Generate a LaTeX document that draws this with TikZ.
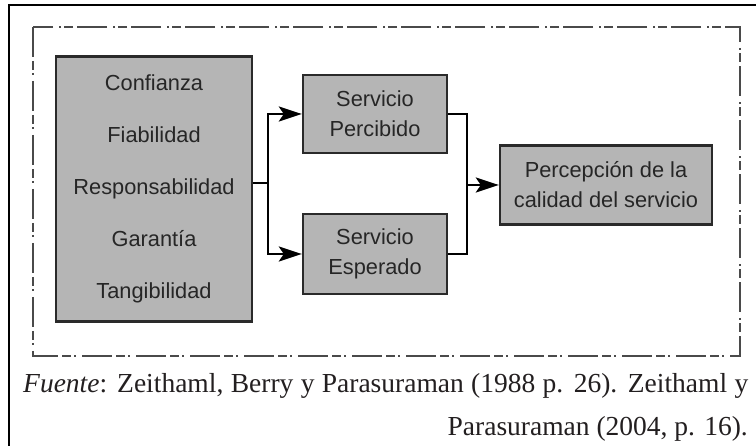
\documentclass[tikz,border=0pt]{standalone}
\usepackage{fontspec}
\setmainfont{Liberation Serif}
\newfontfamily\boxfont{Liberation Sans}
\usetikzlibrary{arrows.meta}
\definecolor{boxfill}{HTML}{B5B5B5}
\definecolor{boxline}{HTML}{2A2A2A}
\definecolor{frameline}{HTML}{4A4A4A}
\definecolor{captext}{HTML}{231F20}
\tikzset{
  gbox/.style={draw=boxline, line width=2.4pt, fill=boxfill, inner sep=0pt,
    align=center, text=black!85, font=\boxfont\fontsize{21.8}{30}\selectfont},
  conn/.style={line width=2.2pt, black},
  arr/.style={conn, -{Stealth[length=23pt,width=15pt,inset=5pt]}},
  dashframe/.style={draw=frameline, line width=2.2pt,
    dash pattern=on 30pt off 4pt on 9pt off 3pt on 2pt off 6pt},
  captionline/.style={font=\fontsize{27.5}{32}\selectfont, text=captext, inner sep=0pt}
}
\begin{document}
\begin{tikzpicture}[x=1pt,y=-1pt]
\useasboundingbox (0,0) rectangle (756,446);
\fill[white] (0,0) rectangle (756,446);
% outer page frame
\draw[line width=1.5pt] (756,5) -- (9,5) -- (9,446);
% dash-dot frame
\draw[dashframe] (33,27) rectangle (740,356);
% boxes
\node[gbox, minimum width=196pt, minimum height=265pt,
      font=\boxfont\fontsize{21.8}{52}\selectfont] (factors) at (154,189)
  {Confianza\\Fiabilidad\\Responsabilidad\\Garantía\\Tangibilidad};
\node[gbox, minimum width=144pt, minimum height=78pt] (perc) at (375,114) {Servicio\\Percibido};
\node[gbox, minimum width=144pt, minimum height=80pt] (esp) at (375,254) {Servicio\\Esperado};
\node[gbox, minimum width=212pt, minimum height=79pt] (pcal) at (606,185) {Percepción de la\\calidad del servicio};
% connectors
\coordinate (j1) at (268,183);
\coordinate (j2) at (467,183);
\draw[conn] (factors.east |- j1) -- (j1);
\draw[arr] (j1) |- (perc.west);
\draw[arr] (j1) |- (esp.west);
\draw[conn] (perc.east) -| (j2) |- (esp.east);
\draw[arr] (j2 |- pcal.west) -- (pcal.west);
% caption
\node[captionline, anchor=base west] (cap1) at (23,393)
  {\makebox[725pt][s]{\textit{Fuente}: Zeithaml, Berry y Parasuraman (1988 p. 26). Zeithaml y}};
\node[captionline, anchor=base east] (cap2) at (748,436) {Parasuraman (2004, p. 16).};
\end{tikzpicture}
\end{document}
